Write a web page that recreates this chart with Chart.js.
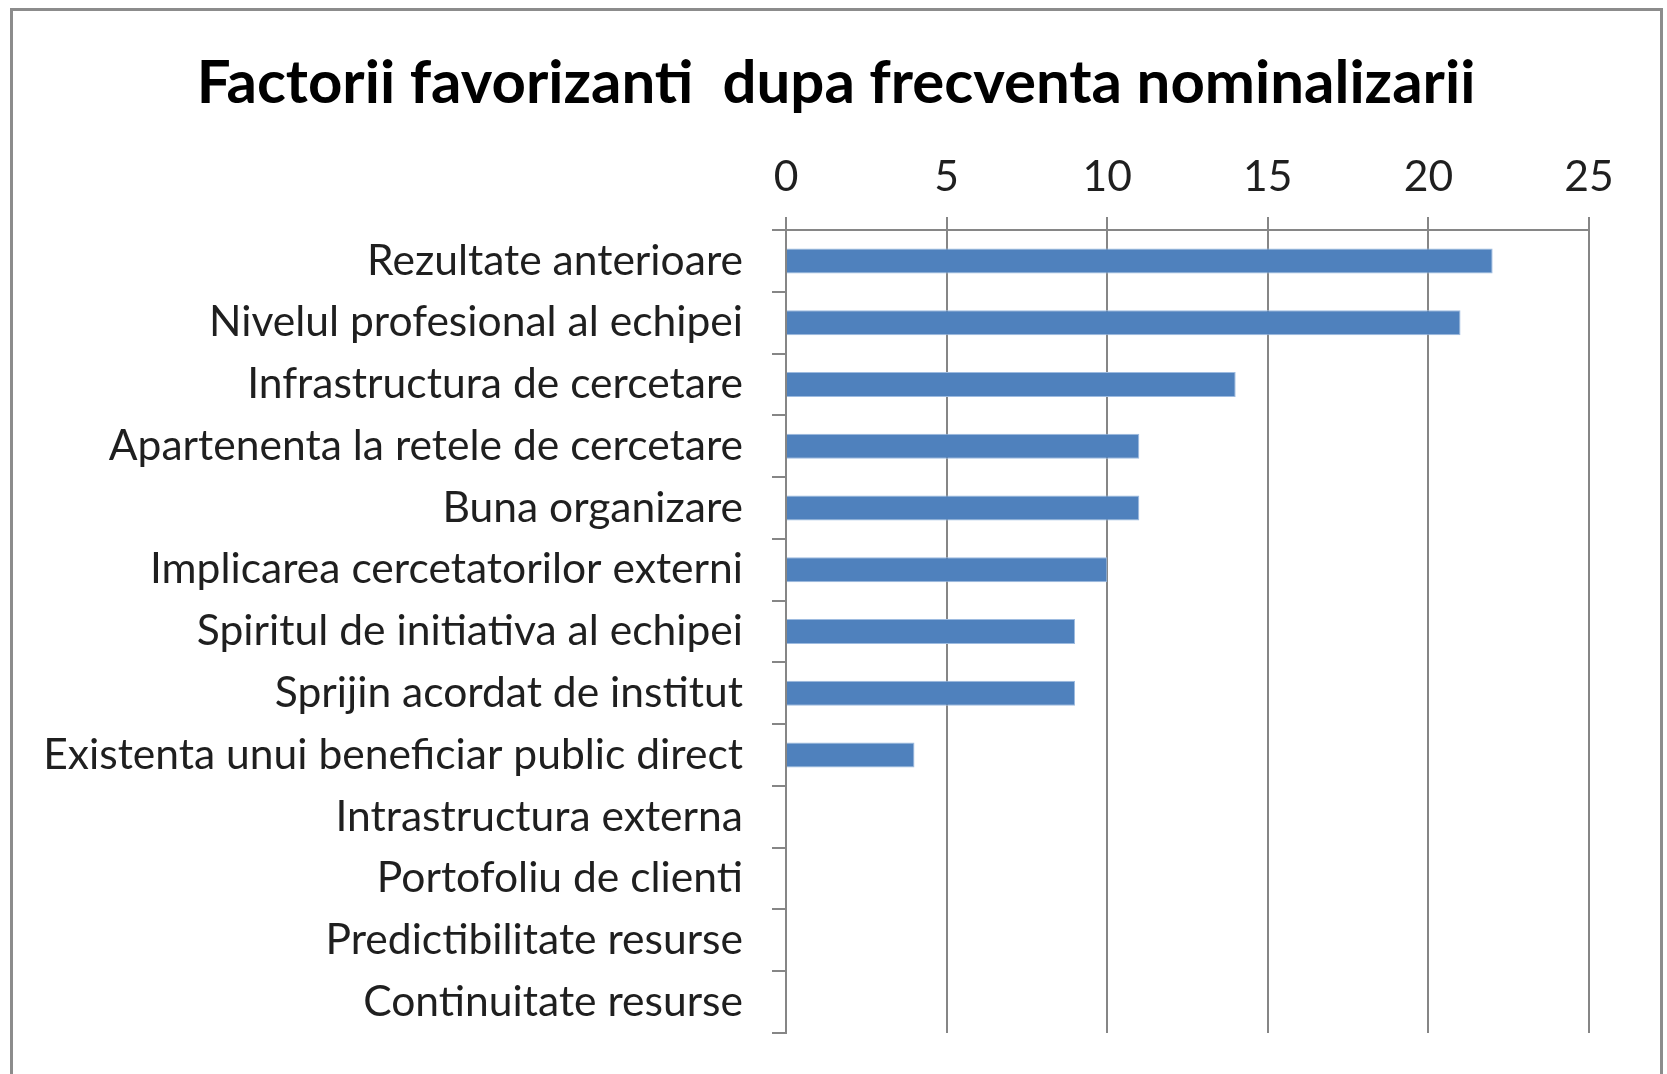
<!DOCTYPE html>
<html><head><meta charset="utf-8">
<script src="https://cdn.jsdelivr.net/npm/chart.js@4.4.0/dist/chart.umd.min.js"></script>
<style>
html,body{margin:0;padding:0;background:#fff;width:1667px;height:1074px;overflow:hidden}
#frame{position:absolute;left:10px;top:8px;width:1653px;height:1100px;border:3px solid #8c8c8c;box-sizing:border-box}
#wrap{position:absolute;left:0;top:0;width:1667px;height:1074px}
</style></head><body>
<div id="frame"></div>
<div id="wrap"><canvas id="c" width="1667" height="1074"></canvas></div>
<script>
const categories = [
  'Rezultate anterioare',
  'Nivelul profesional al echipei',
  'Infrastructura de cercetare',
  'Apartenenta la retele de cercetare',
  'Buna organizare',
  'Implicarea cercetatorilor externi',
  'Spiritul de initiativa al echipei',
  'Sprijin acordat de institut',
  'Existenta unui beneficiar public direct',
  'Intrastructura externa',
  'Portofoliu de clienti',
  'Predictibilitate resurse',
  'Continuitate resurse'
];
const values = [22, 21, 14, 11, 11, 10, 9, 9, 4, 0, 0, 0, 0];
const xTicks = [0, 5, 10, 15, 20, 25];
const chartTitle = 'Factorii favorizanti  dupa frecventa nominalizarii';

const FAMILY = 'Lato';
const mctx = document.createElement('canvas').getContext('2d');
function fit(text, weight, target) {
  mctx.font = weight + ' 100px ' + FAMILY;
  return 100 * target / mctx.measureText(text).width;
}
const labelSize = fit('Existenta unui beneficiar public direct', 'normal', 700);
const titleSize = fit(chartTitle, 'bold', 1279);

const AREA = {left: 786, right: 1589, top: 230, bottom: 1033};
const TITLE_CENTER_X = 836;
const titlePadTop = 84 - titleSize * 0.6;
const titlePadBottom = 8;
const titleBox = titleSize * 1.2 + titlePadTop + titlePadBottom;
const xTickLen = 13;
const xTickPad = 41.5 - 0.635 * labelSize;
const gridColor = '#868686';

function noPad(s) { s.paddingTop = 0; s.paddingBottom = 0; s.paddingLeft = 0; s.paddingRight = 0; }

const centerTitle = {
  id: 'centerTitle',
  afterLayout(chart) {
    const tb = chart.titleBlock;
    if (tb) { const half = (tb.right - tb.left) / 2; tb.left = TITLE_CENTER_X - half; tb.right = TITLE_CENTER_X + half; }
  }
};

new Chart(document.getElementById('c'), {
  type: 'bar',
  plugins: [centerTitle],
  data: {
    labels: categories,
    datasets: [{
      data: values,
      backgroundColor: '#4f81bd',
      borderColor: '#9dbbe0',
      borderWidth: 1,
      categoryPercentage: 1,
      barPercentage: 0.405
    }]
  },
  options: {
    indexAxis: 'y',
    responsive: false,
    animation: false,
    devicePixelRatio: 1,
    layout: {padding: {left: 0, top: 0, right: 1667 - AREA.right, bottom: 1074 - AREA.bottom}},
    plugins: {
      legend: {display: false},
      tooltip: {enabled: false},
      title: {
        display: true,
        text: chartTitle,
        color: '#000',
        font: {family: FAMILY, size: titleSize, weight: 'bold', lineHeight: 1.2},
        padding: {top: titlePadTop, bottom: titlePadBottom},
        align: 'center'
      }
    },
    scales: {
      x: {
        position: 'top',
        min: 0,
        max: 25,
        afterBuildTicks: s => { s.ticks = xTicks.map(v => ({value: v})); },
        afterFit: s => { s.height = AREA.top - titleBox; noPad(s); },
        ticks: {
          color: '#1f1f1f',
          font: {family: FAMILY, size: labelSize, lineHeight: 1.2},
          padding: xTickPad,
          maxRotation: 0
        },
        grid: {color: gridColor, lineWidth: 2, tickLength: xTickLen, drawTicks: true},
        border: {display: true, color: gridColor, width: 2}
      },
      y: {
        afterFit: s => { s.width = AREA.left; noPad(s); },
        ticks: {
          color: '#1f1f1f',
          font: {family: FAMILY, size: labelSize, lineHeight: 1.2},
          padding: 29,
          autoSkip: false
        },
        grid: {drawOnChartArea: false, drawTicks: true, tickLength: 14, color: gridColor, lineWidth: 2},
        border: {display: true, color: gridColor, width: 2}
      }
    }
  }
});
</script>
</body></html>
